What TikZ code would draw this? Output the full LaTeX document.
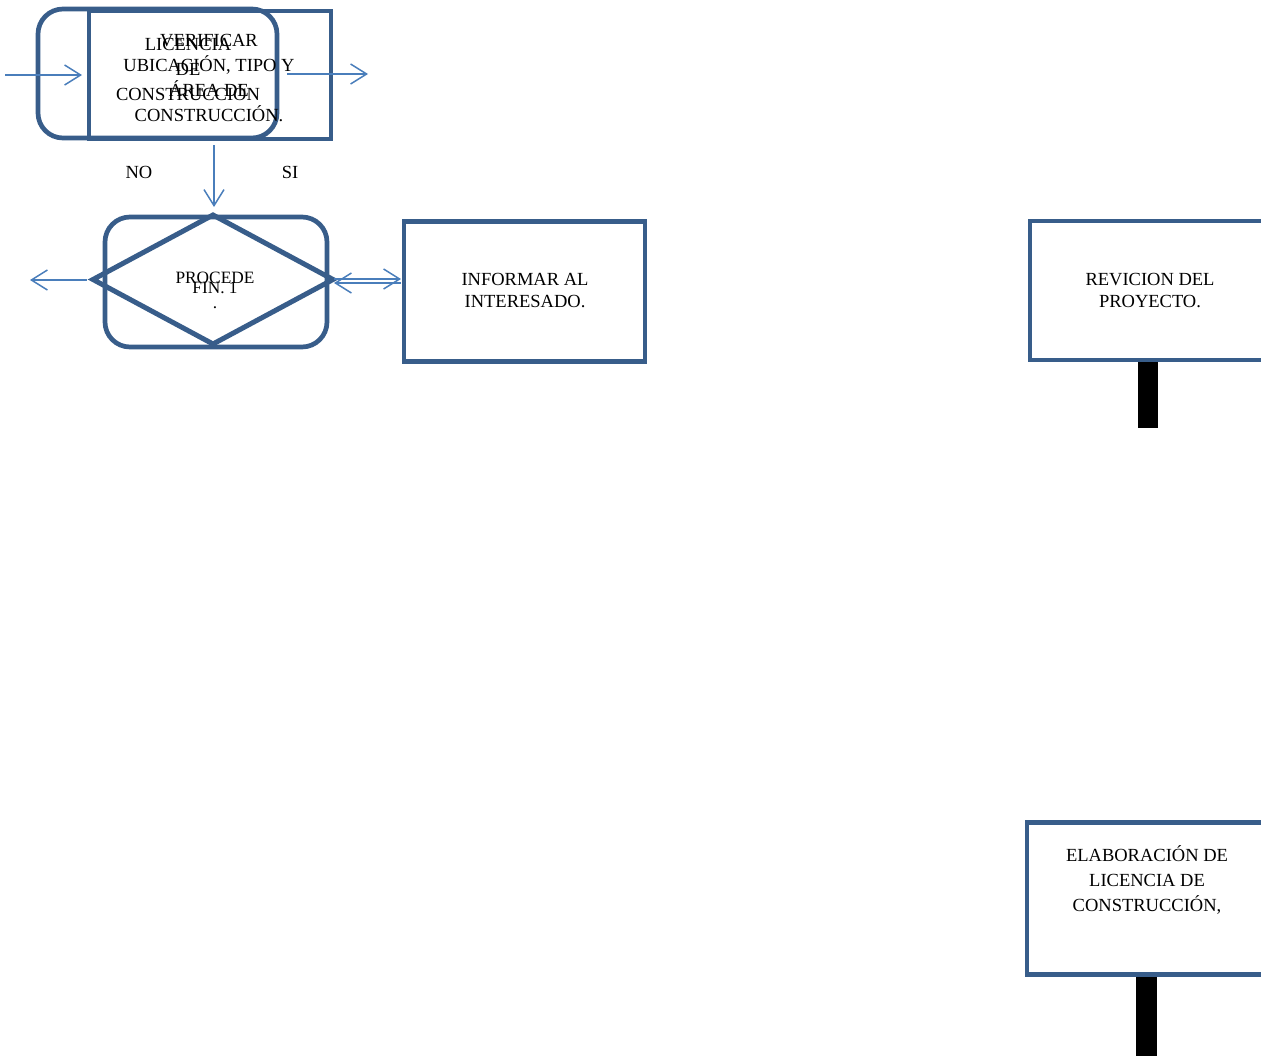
\documentclass[tikz,border=0pt]{standalone}
\usepackage{fontspec}
\setmainfont{Liberation Serif}
\usetikzlibrary{shapes.geometric,arrows.meta}
\definecolor{boxblue}{HTML}{385D8A}
\definecolor{arrblue}{HTML}{4A7EBB}
\begin{document}
\begin{tikzpicture}[x=1pt,y=-1pt,
  shapebox/.style={draw=boxblue, line width=4.7pt, inner sep=0pt, outer sep=0pt},
  txt/.style={inner sep=0pt, outer sep=0pt, anchor=base, font=\fontsize{18.5}{25}\selectfont},
  txtb/.style={inner sep=0pt, outer sep=0pt, anchor=base, font=\fontsize{18.5}{22.5}\selectfont},
  txtd/.style={inner sep=0pt, outer sep=0pt, anchor=base, font=\fontsize{17.3}{20}\selectfont},
  arr/.style={draw=arrblue, line width=1.5pt, -{Straight Barb[length=16pt,width=20pt]}},
  bar/.style={draw=black, line width=20.5pt},
]
\clip (0,0) rectangle (1261,1055);

% shapes
\node[shapebox, rounded corners=25pt, minimum width=239pt, minimum height=129pt] (term) at (157.5,73.5) {};
\node[shapebox, minimum width=242pt, minimum height=128pt] (verif) at (210,75) {};
\node[shapebox, rounded corners=25pt, minimum width=222pt, minimum height=130pt] (proc) at (216,282) {};
\node[shapebox, diamond, line width=5pt, minimum width=240pt, minimum height=129pt] (dia) at (213,279.5) {};
\node[shapebox, minimum width=241pt, minimum height=140pt] (inf) at (524.5,291.5) {};
\node[shapebox, minimum width=244pt, minimum height=139pt] (rev) at (1152,290.5) {};
\node[shapebox, minimum width=244pt, minimum height=152pt] (elab) at (1149,898.5) {};

% texts
\node[txt] (tlic) at (188,50) {\begin{tabular}[t]{@{}c@{}}LICENCIA\\DE\\CONSTRUCCIÓN\end{tabular}};
\node[txt] (tver) at (209,46) {\begin{tabular}[t]{@{}c@{}}VERIFICAR\\UBICACIÓN, TIPO Y\\ÁREA DE\\CONSTRUCCIÓN.\end{tabular}};
\node[txt] (tno) at (139,178) {NO};
\node[txt] (tsi) at (290,178) {SI};
\node[txtd] (tproc) at (215,283) {PROCEDE};
\node[txtd] (tfin) at (215,293) {FIN. 1};
\node[txtd] (tdot) at (215,308) {.};
\node[txtb] (tinf) at (525,285) {\begin{tabular}[t]{@{}c@{}}INFORMAR AL\\INTERESADO.\end{tabular}};
\node[txtb] (trev) at (1150,285) {\begin{tabular}[t]{@{}c@{}}REVICION DEL\\PROYECTO.\end{tabular}};
\node[txt] (telab) at (1147,861) {\begin{tabular}[t]{@{}c@{}}ELABORACIÓN DE\\LICENCIA DE\\CONSTRUCCIÓN,\end{tabular}};

% connector end points
\coordinate (inA) at (5,75);
\coordinate (inB) at (82,75);
\coordinate (outA) at (287,74);
\coordinate (outB) at (368,74);
\coordinate (dnA) at (214,145);
\coordinate (dnB) at (214,207);
\coordinate (lfA) at (87,280);
\coordinate (lfB) at (30,280);
\coordinate (dbA) at (334,279);
\coordinate (dbB) at (401,279);
\coordinate (dbC) at (401,283);
\coordinate (dbD) at (334,283);
\coordinate (bar1) at (1148,428);
\coordinate (bar2) at (1146.5,1060);

% connectors
\draw[arr] (inA) -- (inB);
\draw[arr] (outA) -- (outB);
\draw[arr] (dnA) -- (dnB);
\draw[arr] (lfA) -- (lfB);
\draw[arr] (dbA) -- (dbB);
\draw[arr] (dbC) -- (dbD);
\draw[bar] ([yshift=-2.4pt]rev.south -| bar1) -- (bar1);
\draw[bar] ([yshift=-2.4pt]elab.south -| bar2) -- (bar2);
\end{tikzpicture}
\end{document}
